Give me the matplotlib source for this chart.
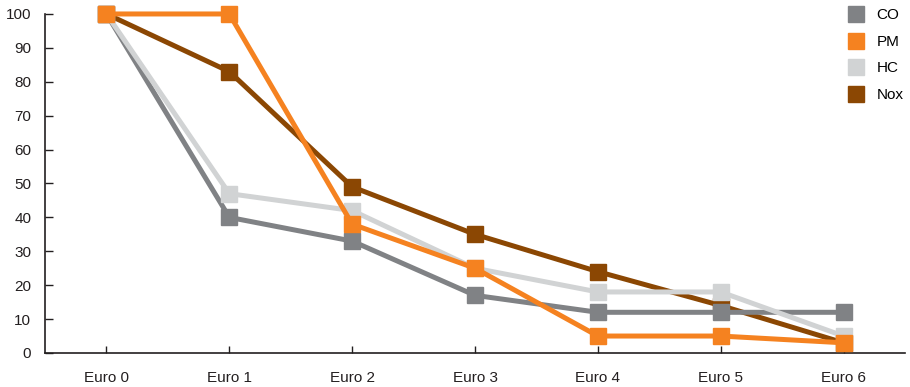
import matplotlib
matplotlib.use("Agg")
import matplotlib.pyplot as plt
from matplotlib.lines import Line2D

# emission limits relative to Euro 0 (%)
stages = ["Euro 0", "Euro 1", "Euro 2", "Euro 3", "Euro 4", "Euro 5", "Euro 6"]
co = [100, 40, 33, 17, 12, 12, 12]
pm = [100, 100, 38, 25, 5, 5, 3]
hc = [100, 47, 42, 25, 18, 18, 5]
nox = [100, 83, 49, 35, 24, 14, 3]

plt.rcParams["font.family"] = ["Liberation Sans", "DejaVu Sans"]
txt = "#231f20"
fs = 11

fig = plt.figure(figsize=(9.1, 3.87), dpi=100)
ax = fig.add_axes([0.0495, 0.0879, 0.945, 0.876])

x = range(len(stages))
series = [("Nox", nox, "#8b4703", 1), ("CO", co, "#808285", 2),
          ("HC", hc, "#d1d3d4", 3), ("PM", pm, "#f58220", 4)]
for name, vals, col, z in series:
    ax.plot(x, vals, color=col, lw=3.6, marker="s", ms=11.5,
            solid_joinstyle="miter", zorder=z, clip_on=False)

ax.set_xlim(-0.5, 6.5)
ax.set_ylim(0, 100)
ax.set_yticks(range(0, 101, 10))
ax.set_xticks(list(x))
ax.set_xticklabels(stages)
for s in ["top", "right"]:
    ax.spines[s].set_visible(False)
for s in ["left", "bottom"]:
    ax.spines[s].set_color(txt)
    ax.spines[s].set_linewidth(1.2)
ax.tick_params(axis="y", direction="in", length=6, width=1, pad=10,
               labelsize=fs, colors=txt)
ax.tick_params(axis="x", direction="in", length=5, width=1, pad=13,
               labelsize=fs, colors=txt)

legend_order = [("CO", "#808285"), ("PM", "#f58220"),
                ("HC", "#d1d3d4"), ("Nox", "#8b4703")]
handles = [Line2D([], [], ls="none", marker="s", ms=11.5, color=c)
           for _, c in legend_order]
fig.legend(handles, [n for n, _ in legend_order], loc="upper left",
           bbox_to_anchor=(0.926, 0.994), frameon=False, fontsize=fs,
           labelspacing=0.82, handletextpad=0.8, handlelength=1.0,
           borderaxespad=0)

fig.savefig("out.png", dpi=100)
